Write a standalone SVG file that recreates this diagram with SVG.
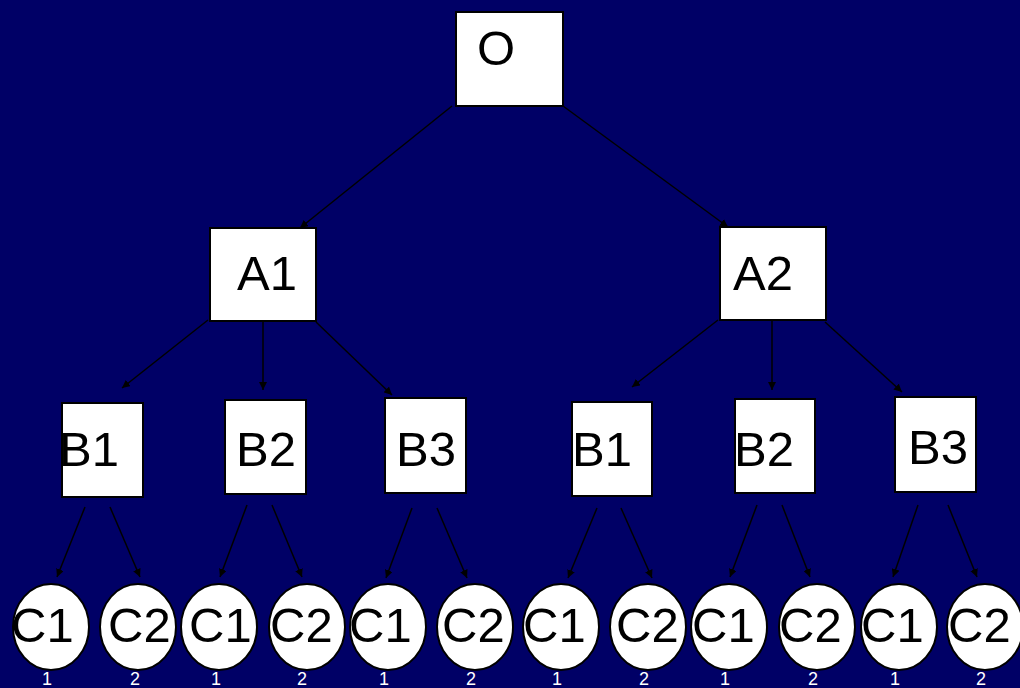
<svg xmlns="http://www.w3.org/2000/svg" width="1020" height="688" viewBox="0 0 1020 688">
  <style>
    .box { fill: #ffffff; stroke: #000000; stroke-width: 2; }
    .leaf { fill: #ffffff; stroke: #000000; stroke-width: 2; }
    .lbl { font-family: "Liberation Sans", Arial, sans-serif; font-size: 49px; fill: #000000; }
    .idx { font-family: "Liberation Sans", Arial, sans-serif; font-size: 18px; fill: #ffffff; text-anchor: middle; }
    .edge { stroke: #000000; stroke-width: 1.5; fill: none; marker-end: url(#head); }
  </style>
  <defs>
    <marker id="head" viewBox="0 0 10 10" refX="10" refY="5" markerWidth="8" markerHeight="8" markerUnits="userSpaceOnUse" orient="auto">
      <path d="M0,0 L10,5 L0,10 z" fill="#000000"/>
    </marker>
  </defs>
  <rect width="1020" height="688" fill="#000066"/>

  <g id="connectors">
    <line class="edge" x1="452" y1="106" x2="300" y2="228"/>
    <line class="edge" x1="563" y1="106" x2="728" y2="227"/>
    <line class="edge" x1="208" y1="320" x2="122" y2="388"/>
    <line class="edge" x1="263" y1="321" x2="263" y2="390"/>
    <line class="edge" x1="316" y1="322" x2="392" y2="395"/>
    <line class="edge" x1="718" y1="320" x2="632" y2="387"/>
    <line class="edge" x1="772" y1="320" x2="772" y2="390"/>
    <line class="edge" x1="825" y1="322" x2="902" y2="392"/>
    <line class="edge" x1="85" y1="507" x2="57" y2="577"/>
    <line class="edge" x1="110" y1="507" x2="140" y2="577"/>
    <line class="edge" x1="247" y1="505" x2="220" y2="577"/>
    <line class="edge" x1="272" y1="505" x2="302" y2="577"/>
    <line class="edge" x1="412" y1="508" x2="386" y2="578"/>
    <line class="edge" x1="437" y1="508" x2="467" y2="578"/>
    <line class="edge" x1="597" y1="508" x2="568" y2="578"/>
    <line class="edge" x1="621" y1="508" x2="652" y2="578"/>
    <line class="edge" x1="757" y1="505" x2="730" y2="577"/>
    <line class="edge" x1="782" y1="505" x2="810" y2="577"/>
    <line class="edge" x1="918" y1="505" x2="893" y2="577"/>
    <line class="edge" x1="948" y1="505" x2="977" y2="577"/>
  </g>

  <g id="node-O"><rect class="box" x="456" y="12" width="107" height="94"/><text class="lbl" x="477" y="65">O</text></g>
  <g id="node-A1"><rect class="box" x="210" y="228" width="106" height="93"/><text class="lbl" x="237" y="290">A1</text></g>
  <g id="node-A2"><rect class="box" x="720" y="227" width="106" height="93"/><text class="lbl" x="733" y="290">A2</text></g>

  <g id="node-A1-B1"><rect class="box" x="62" y="403" width="81" height="94"/><text class="lbl" x="59" y="466">B1</text></g>
  <g id="node-A1-B2"><rect class="box" x="225" y="400" width="81" height="94"/><text class="lbl" x="236" y="466">B2</text></g>
  <g id="node-A1-B3"><rect class="box" x="385" y="398" width="81" height="95"/><text class="lbl" x="396" y="466">B3</text></g>
  <g id="node-A2-B1"><rect class="box" x="572" y="402" width="80" height="94"/><text class="lbl" x="572" y="466">B1</text></g>
  <g id="node-A2-B2"><rect class="box" x="735" y="399" width="80" height="94"/><text class="lbl" x="734" y="466">B2</text></g>
  <g id="node-A2-B3"><rect class="box" x="895" y="397" width="81" height="95"/><text class="lbl" x="908" y="464">B3</text></g>

  <g id="leaf-1-1-1"><ellipse class="leaf" cx="51" cy="627" rx="38" ry="43"/><text class="lbl" x="11" y="642">C1</text><text class="idx" x="47" y="685">1</text></g>
  <g id="leaf-1-1-2"><ellipse class="leaf" cx="138" cy="627" rx="38" ry="43"/><text class="lbl" x="108" y="642">C2</text><text class="idx" x="135" y="685">2</text></g>
  <g id="leaf-1-2-1"><ellipse class="leaf" cx="219" cy="627" rx="38" ry="43"/><text class="lbl" x="189" y="642">C1</text><text class="idx" x="216" y="685">1</text></g>
  <g id="leaf-1-2-2"><ellipse class="leaf" cx="307" cy="627" rx="38" ry="43"/><text class="lbl" x="270" y="642">C2</text><text class="idx" x="302" y="685">2</text></g>
  <g id="leaf-1-3-1"><ellipse class="leaf" cx="388" cy="627" rx="38" ry="43"/><text class="lbl" x="349" y="642">C1</text><text class="idx" x="384" y="685">1</text></g>
  <g id="leaf-1-3-2"><ellipse class="leaf" cx="475" cy="627" rx="38" ry="43"/><text class="lbl" x="442" y="642">C2</text><text class="idx" x="471" y="685">2</text></g>
  <g id="leaf-2-1-1"><ellipse class="leaf" cx="561" cy="627" rx="38" ry="43"/><text class="lbl" x="523" y="642">C1</text><text class="idx" x="557" y="685">1</text></g>
  <g id="leaf-2-1-2"><ellipse class="leaf" cx="648" cy="627" rx="38" ry="43"/><text class="lbl" x="616" y="642">C2</text><text class="idx" x="644" y="685">2</text></g>
  <g id="leaf-2-2-1"><ellipse class="leaf" cx="729" cy="627" rx="38" ry="43"/><text class="lbl" x="692" y="642">C1</text><text class="idx" x="725" y="685">1</text></g>
  <g id="leaf-2-2-2"><ellipse class="leaf" cx="817" cy="627" rx="38" ry="43"/><text class="lbl" x="779" y="642">C2</text><text class="idx" x="813" y="685">2</text></g>
  <g id="leaf-2-3-1"><ellipse class="leaf" cx="899" cy="627" rx="38" ry="43"/><text class="lbl" x="861" y="642">C1</text><text class="idx" x="895" y="685">1</text></g>
  <g id="leaf-2-3-2"><ellipse class="leaf" cx="985" cy="627" rx="38" ry="43"/><text class="lbl" x="948" y="642">C2</text><text class="idx" x="981" y="685">2</text></g>
</svg>
